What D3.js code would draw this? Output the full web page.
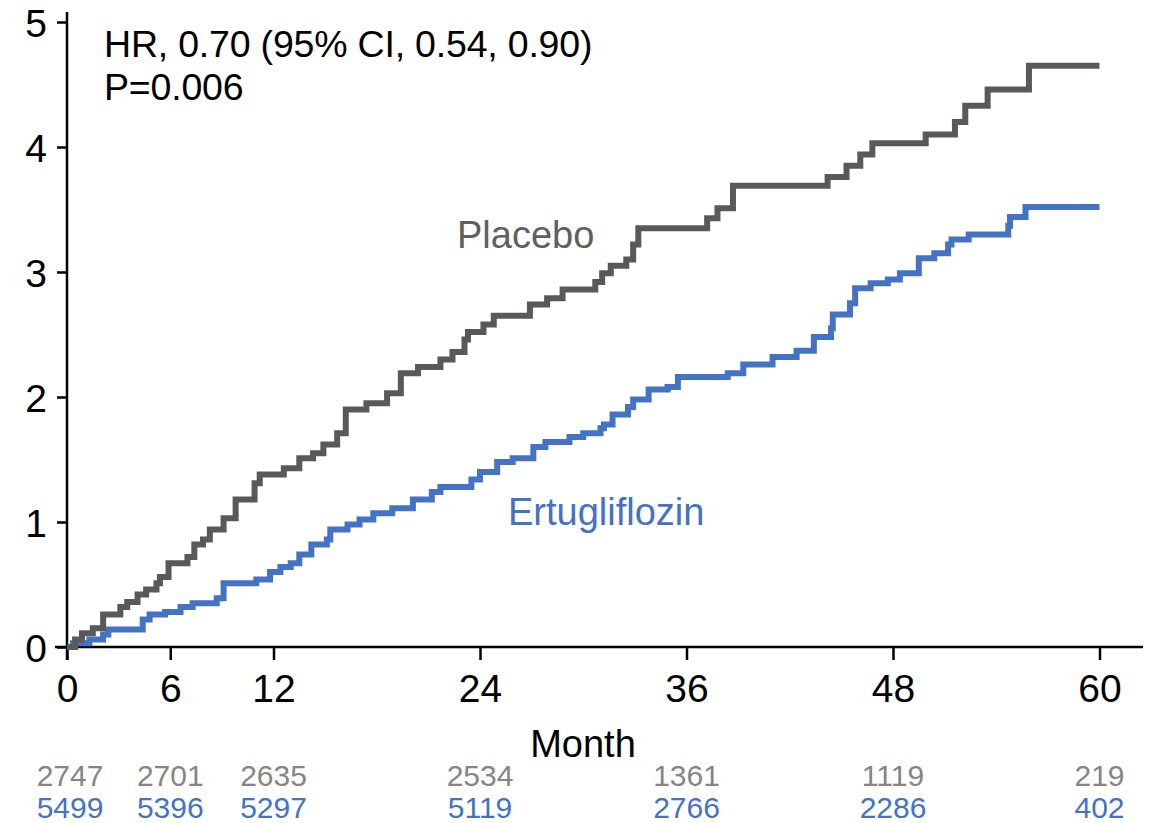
<!DOCTYPE html>
<html><head><meta charset="utf-8">
<script src="https://cdn.jsdelivr.net/npm/d3@7"></script>
<style>body{margin:0;background:#fff}svg{display:block;font-family:Arial,"Liberation Sans",sans-serif}</style>
</head><body><svg id="c" width="1158" height="823"></svg>
<script>
const xTicks = [0, 6, 12, 24, 36, 48, 60];
const yTicks = [0, 1, 2, 3, 4, 5];
const placeboMonths = [0,0.47,0.87,1.5,2.1,3.1,3.5,4.1,4.6,5.2,5.4,5.9,7.0,7.4,7.9,8.3,9.1,9.8,10.9,11.2,12.6,13.5,14.3,14.9,15.7,16.2,17.4,18.6,19.4,20.4,21.7,22.4,23.1,23.3,24.2,24.8,26.9,27.9,28.8,30.7,31.1,31.6,32.5,32.9,33.2,37.2,37.8,38.7,44.2,45.3,46.1,46.8,49.9,51.6,52.2,53.5,55.9,60];
const placeboValues = [0,0.06,0.11,0.15,0.26,0.32,0.36,0.42,0.46,0.51,0.56,0.67,0.72,0.82,0.86,0.94,1.03,1.18,1.31,1.38,1.43,1.51,1.55,1.62,1.71,1.90,1.95,2.03,2.19,2.24,2.30,2.36,2.46,2.52,2.58,2.65,2.74,2.79,2.86,2.92,2.99,3.05,3.10,3.22,3.35,3.43,3.51,3.69,3.76,3.85,3.94,4.03,4.10,4.20,4.33,4.46,4.65,4.65];
const ertuMonths = [0,0.35,1.3,2.1,2.4,4.4,4.8,5.7,6.6,7.3,8.7,9.1,11.0,11.8,12.4,13.0,13.5,14.2,15.1,15.3,16.3,17.0,17.8,18.9,20.1,21.2,21.7,23.5,24.0,25.0,25.9,27.1,27.8,29.2,30.0,31.0,31.2,31.7,32.6,32.9,33.8,34.9,35.5,38.4,39.3,41.0,42.4,43.4,44.4,44.5,45.5,45.8,46.7,47.7,48.4,49.5,50.4,51.2,51.4,52.4,54.7,54.8,55.7,60];
const ertuValues = [0,0.03,0.06,0.10,0.14,0.22,0.26,0.28,0.32,0.35,0.39,0.51,0.54,0.60,0.64,0.67,0.74,0.82,0.86,0.94,0.98,1.02,1.07,1.11,1.18,1.24,1.28,1.34,1.40,1.48,1.51,1.60,1.64,1.68,1.71,1.75,1.78,1.86,1.92,1.98,2.06,2.08,2.16,2.19,2.26,2.32,2.37,2.48,2.55,2.66,2.75,2.87,2.91,2.94,2.99,3.11,3.15,3.22,3.26,3.30,3.37,3.44,3.52,3.52];
const riskPlacebo = [2747, 2701, 2635, 2534, 1361, 1119, 219];
const riskErtu = [5499, 5396, 5297, 5119, 2766, 2286, 402];
const seriesNames = ["Placebo", "Ertugliflozin"];
const statLines = ["HR, 0.70 (95% CI, 0.54, 0.90)", "P=0.006"];

const colGray = "#58595b", colBlue = "#4472c4", colRiskGray = "#858585";
const svg = d3.select("#c");
const x = d3.scaleLinear().domain([0, 60]).range([67, 1099.5]);
const y = d3.scaleLinear().domain([0, 5]).range([647, 22]);

// axes
const gx = svg.append("g").attr("transform", "translate(0,647)")
  .call(d3.axisBottom(x).tickValues(xTicks).tickSize(13).tickPadding(14).tickFormat(d3.format("d")));
const gy = svg.append("g").attr("transform", "translate(67,0)")
  .call(d3.axisLeft(y).tickValues(yTicks).tickSize(10).tickPadding(10).tickFormat(d3.format("d")));
[gx, gy].forEach(g => {
  g.selectAll("line").attr("stroke", "#000").attr("stroke-width", 2.5);
  g.selectAll("text").attr("font-size", 39).attr("fill", "#000").attr("font-family", "Arial, 'Liberation Sans', sans-serif");
  g.select(".domain").remove();
});
gy.selectAll("text").attr("dy", "0.36em");
gx.selectAll("text").attr("dy", "0.72em");
// axis lines
svg.append("line").attr("x1", 55).attr("x2", 1143).attr("y1", 647).attr("y2", 647).attr("stroke", "#000").attr("stroke-width", 2.5);
svg.append("line").attr("x1", 67).attr("x2", 67).attr("y1", 12).attr("y2", 660).attr("stroke", "#000").attr("stroke-width", 2.5);

const line = d3.line().x(d => x(d[0])).y(d => y(d[1])).curve(d3.curveStepAfter);
const pData = d3.zip(placeboMonths, placeboValues);
const eData = d3.zip(ertuMonths, ertuValues);
svg.append("path").datum(eData).attr("d", line).attr("fill", "none").attr("stroke", colBlue).attr("stroke-width", 6).attr("stroke-linejoin", "miter");
svg.append("path").datum(pData).attr("d", line).attr("fill", "none").attr("stroke", colGray).attr("stroke-width", 6).attr("stroke-linejoin", "miter");

// labels
svg.append("text").attr("x", 457).attr("y", 248).attr("font-size", 38).attr("fill", "#5f5f5f").text(seriesNames[0]);
svg.append("text").attr("x", 508).attr("y", 525).attr("font-size", 38).attr("fill", colBlue).text(seriesNames[1]);
svg.selectAll(".stat").data(statLines).enter().append("text")
  .attr("x", 104).attr("y", (d, i) => 57 + i * 43).attr("font-size", 37.5).attr("fill", "#000")
  .attr("letter-spacing", "-0.2").text(d => d);

svg.append("text").attr("x", 583).attr("y", 757).attr("text-anchor", "middle").attr("font-size", 38).attr("fill", "#000").text("Month");

svg.selectAll(".rp").data(riskPlacebo).enter().append("text")
  .attr("x", (d, i) => x(xTicks[i]) + (i === 0 ? 3 : 0)).attr("y", 786).attr("text-anchor", "middle")
  .attr("font-size", 30).attr("fill", colRiskGray).text(d => d);
svg.selectAll(".re").data(riskErtu).enter().append("text")
  .attr("x", (d, i) => x(xTicks[i]) + (i === 0 ? 3 : 0)).attr("y", 818).attr("text-anchor", "middle")
  .attr("font-size", 30).attr("fill", colBlue).text(d => d);
</script></body></html>
